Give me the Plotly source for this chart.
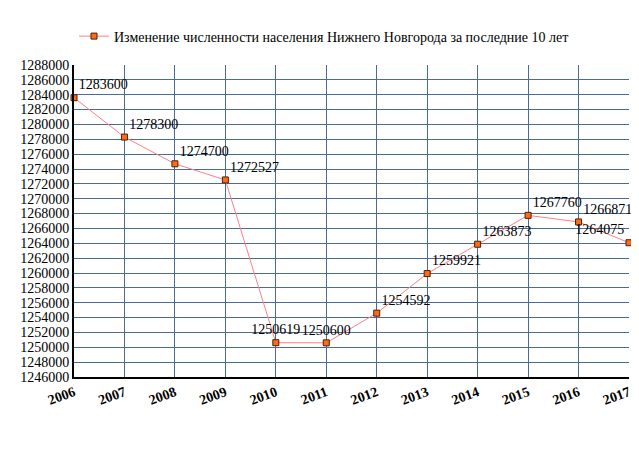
import plotly.graph_objects as go

years = [2006, 2007, 2008, 2009, 2010, 2011, 2012, 2013, 2014, 2015, 2016, 2017]
population = [1283600, 1278300, 1274700, 1272527, 1250619, 1250600, 1254592,
              1259921, 1263873, 1267760, 1266871, 1264075]
positions = ["top right"] * 12
positions[4] = "top center"
positions[5] = "top center"
positions[11] = "top left"

serif = "Liberation Serif, Times New Roman, serif"

fig = go.Figure(go.Scatter(
    x=years, y=population, mode="lines+markers+text",
    name="Изменение численности населения Нижнего Новгорода за последние 10 лет",
    line=dict(color="#ff8080", width=1),
    marker=dict(symbol="square", size=6, color="#ff6a1a", line=dict(color="#4d2000", width=1)),
    text=[str(v) for v in population], textposition=positions,
    textfont=dict(size=14, color="black", family=serif), cliponaxis=False,
))

fig.update_layout(
    width=639, height=470, paper_bgcolor="white", plot_bgcolor="white",
    font=dict(family=serif, color="black", size=14),
    margin=dict(l=57, r=18, t=50, b=101),
    showlegend=True,
    legend=dict(orientation="h", x=0.0, y=1.04, xanchor="left", yanchor="bottom",
                font=dict(size=14, family=serif)),
    xaxis=dict(range=[2006, 2017], tickvals=years, tickangle=-20,
               tickfont=dict(size=14, family=serif, weight="bold"),
               showgrid=True, gridcolor="#4a6b94", gridwidth=1,
               showline=True, linecolor="black", linewidth=2, zeroline=False),
    yaxis=dict(range=[1246000, 1288000], dtick=2000, tickformat="d",
               tickfont=dict(size=14, family=serif),
               showgrid=True, gridcolor="#4a6b94", gridwidth=1,
               showline=True, linecolor="black", linewidth=2, zeroline=False),
)

fig.write_html("out.html")
